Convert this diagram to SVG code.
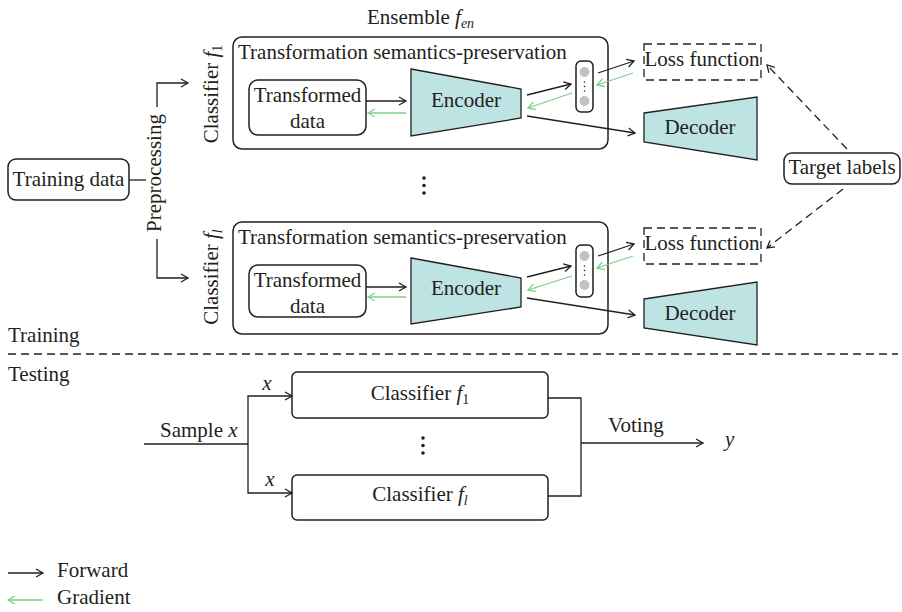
<svg xmlns="http://www.w3.org/2000/svg" width="902" height="612" viewBox="0 0 902 612">
  <style>
    .t { font-family: "Liberation Serif", "Times New Roman", serif; font-size: 21px; fill: #231f20; }
    .it { font-style: italic; }
    .sub { font-size: 14px; }
    .ln { stroke: #231f20; stroke-width: 1.3; fill: none; }
    .gr { stroke: #7ccf8a; stroke-width: 1.3; fill: none; }
    .dash { stroke: #231f20; stroke-width: 1.3; fill: none; stroke-dasharray: 8 5; }
    .box { fill: #fff; stroke: #231f20; stroke-width: 1.5; }
    .dbox { fill: #fff; stroke: #231f20; stroke-width: 1.3; stroke-dasharray: 8 5; }
    .trap { fill: #bde3e3; stroke: #231f20; stroke-width: 1.3; }
    .dot { fill: #231f20; }
    .node { fill: #c2c2c2; }
  </style>
  <defs>
    <marker id="fw" markerWidth="10" markerHeight="10" refX="8" refY="5" orient="auto" markerUnits="userSpaceOnUse">
      <path d="M1,1 L8,5 L1,9" fill="none" stroke="#231f20" stroke-width="1.3"/>
    </marker>
    <marker id="bw" markerWidth="10" markerHeight="10" refX="8" refY="5" orient="auto" markerUnits="userSpaceOnUse">
      <path d="M1,1 L8,5 L1,9" fill="none" stroke="#7ccf8a" stroke-width="1.3"/>
    </marker>
  </defs>

  <!-- ensemble title -->
  <text class="t" x="367" y="24">Ensemble <tspan class="it">f</tspan><tspan class="it sub" dy="4">en</tspan></text>

  <!-- training data and preprocessing split -->
  <g id="training-data">
    <rect class="box" x="8" y="159" width="121" height="41" rx="8"/>
    <text class="t" x="68.5" y="186" text-anchor="middle">Training data</text>
  </g>
  <g id="preprocessing">
    <text class="t" transform="translate(161,173) rotate(-90)" text-anchor="middle">Preprocessing</text>
  </g>

  <!-- classifier f1 -->
  <g id="classifier-1">
    <text class="t" transform="translate(218,94) rotate(-90)" text-anchor="middle">Classifier <tspan class="it">f</tspan><tspan class="sub" dy="4">1</tspan></text>
    <rect class="box" x="233" y="37" width="375" height="112" rx="9"/>
    <text class="t" x="238" y="59">Transformation semantics-preservation</text>
  </g>
  <g id="transformed-1">
    <rect class="box" x="249" y="80" width="117" height="55" rx="9"/>
    <text class="t" x="307.5" y="102" text-anchor="middle">Transformed</text>
    <text class="t" x="307.5" y="128" text-anchor="middle">data</text>
  </g>
  <g id="encoder-1">
    <polygon class="trap" points="411,69 521,89 521,118 411,136"/>
    <text class="t" x="466" y="107" text-anchor="middle">Encoder</text>
  </g>
  <g id="features-1">
    <rect class="box" x="576" y="61" width="17" height="51" rx="5"/>
    <circle class="node" cx="584.5" cy="72" r="5"/>
    <circle class="node" cx="584.5" cy="101" r="5"/>
    <circle class="dot" cx="584.5" cy="82" r="0.8"/>
    <circle class="dot" cx="584.5" cy="86.5" r="0.8"/>
    <circle class="dot" cx="584.5" cy="91" r="0.8"/>
  </g>
  <g id="loss-1">
    <rect class="dbox" x="644" y="44" width="117" height="36"/>
    <text class="t" x="702" y="66" text-anchor="middle">Loss function</text>
  </g>
  <g id="decoder-1">
    <polygon class="trap" points="644,113 757,97 757,160 644,142"/>
    <text class="t" x="700" y="134" text-anchor="middle">Decoder</text>
  </g>

  <!-- vertical ellipsis between classifiers -->
  <g id="ellipsis-train">
    <circle class="dot" cx="424" cy="178" r="1.8"/>
    <circle class="dot" cx="424" cy="185.5" r="1.8"/>
    <circle class="dot" cx="424" cy="193" r="1.8"/>
  </g>

  <!-- classifier fl -->
  <g id="classifier-l">
    <text class="t" transform="translate(218,277) rotate(-90)" text-anchor="middle">Classifier <tspan class="it">f</tspan><tspan class="it sub" dy="4">l</tspan></text>
    <rect class="box" x="233" y="222" width="375" height="112" rx="9"/>
    <text class="t" x="238" y="244">Transformation semantics-preservation</text>
  </g>
  <g id="transformed-l">
    <rect class="box" x="249" y="265" width="117" height="52" rx="9"/>
    <text class="t" x="307.5" y="287" text-anchor="middle">Transformed</text>
    <text class="t" x="307.5" y="313" text-anchor="middle">data</text>
  </g>
  <g id="encoder-l">
    <polygon class="trap" points="411,258 521,278 521,307 411,324"/>
    <text class="t" x="466" y="295" text-anchor="middle">Encoder</text>
  </g>
  <g id="features-l">
    <rect class="box" x="576" y="245" width="17" height="52" rx="5"/>
    <circle class="node" cx="584.5" cy="256" r="5"/>
    <circle class="node" cx="584.5" cy="285" r="5"/>
    <circle class="dot" cx="584.5" cy="266" r="0.8"/>
    <circle class="dot" cx="584.5" cy="270.5" r="0.8"/>
    <circle class="dot" cx="584.5" cy="275" r="0.8"/>
  </g>
  <g id="loss-l">
    <rect class="dbox" x="644" y="228" width="117" height="36"/>
    <text class="t" x="702" y="250" text-anchor="middle">Loss function</text>
  </g>
  <g id="decoder-l">
    <polygon class="trap" points="644,299 757,282 757,345 644,328"/>
    <text class="t" x="700" y="320" text-anchor="middle">Decoder</text>
  </g>

  <g id="target-labels">
    <rect class="box" x="784" y="153" width="116" height="31" rx="8"/>
    <text class="t" x="842" y="174" text-anchor="middle">Target labels</text>
  </g>

  <!-- training connectors -->
  <g id="connectors-train">
    <path class="ln" d="M129,180 H146"/>
    <path class="ln" d="M157,107 V83 H188" marker-end="url(#fw)"/>
    <path class="ln" d="M157,239 V278 H188" marker-end="url(#fw)"/>

    <path class="ln" d="M366,101 H406" marker-end="url(#fw)"/>
    <path class="gr" d="M406,113 H368" marker-end="url(#bw)"/>
    <path class="ln" d="M527,95 L571,84" marker-end="url(#fw)"/>
    <path class="gr" d="M572,93 L528,108" marker-end="url(#bw)"/>
    <path class="ln" d="M598,73 L634,61" marker-end="url(#fw)"/>
    <path class="gr" d="M633,73 L597,85" marker-end="url(#bw)"/>
    <path class="ln" d="M527,116 L635,133" marker-end="url(#fw)"/>

    <path class="ln" d="M366,287 H406" marker-end="url(#fw)"/>
    <path class="gr" d="M406,297 H368" marker-end="url(#bw)"/>
    <path class="ln" d="M527,277 L571,266" marker-end="url(#fw)"/>
    <path class="gr" d="M572,276 L528,290" marker-end="url(#bw)"/>
    <path class="ln" d="M598,256 L634,244" marker-end="url(#fw)"/>
    <path class="gr" d="M633,256 L597,268" marker-end="url(#bw)"/>
    <path class="ln" d="M527,298 L635,315" marker-end="url(#fw)"/>

    <path class="dash" d="M847,149 L767,65" marker-end="url(#fw)"/>
    <path class="dash" d="M843,189 L767,248" marker-end="url(#fw)"/>
  </g>

  <!-- phase divider -->
  <text class="t" x="8" y="342">Training</text>
  <path class="dash" d="M8,354 H898"/>
  <text class="t" x="8" y="381">Testing</text>

  <!-- testing -->
  <g id="test-classifier-1">
    <rect class="box" x="292" y="372" width="256" height="46" rx="5"/>
    <text class="t" x="420" y="400" text-anchor="middle">Classifier <tspan class="it">f</tspan><tspan class="sub" dy="4">1</tspan></text>
  </g>
  <g id="ellipsis-test">
    <circle class="dot" cx="423" cy="438" r="1.8"/>
    <circle class="dot" cx="423" cy="445.5" r="1.8"/>
    <circle class="dot" cx="423" cy="453" r="1.8"/>
  </g>
  <g id="test-classifier-l">
    <rect class="box" x="292" y="475" width="256" height="45" rx="5"/>
    <text class="t" x="420" y="501" text-anchor="middle">Classifier <tspan class="it">f</tspan><tspan class="it sub" dy="4">l</tspan></text>
  </g>

  <g id="connectors-test">
    <path class="ln" d="M144,444 H248"/>
    <path class="ln" d="M248,444 V396 H292" marker-end="url(#fw)"/>
    <path class="ln" d="M248,444 V493 H292" marker-end="url(#fw)"/>
    <path class="ln" d="M548,398 H581 V496 H548"/>
    <path class="ln" d="M581,443 H703" marker-end="url(#fw)"/>
  </g>
  <text class="t" x="160" y="437">Sample <tspan class="it">x</tspan></text>
  <text class="t it" x="267" y="390" text-anchor="middle">x</text>
  <text class="t it" x="270" y="486" text-anchor="middle">x</text>
  <text class="t" x="608" y="432">Voting</text>
  <text class="t it" x="725" y="446">y</text>

  <!-- legend -->
  <g id="legend">
    <path class="ln" d="M8,573 H43" marker-end="url(#fw)"/>
    <text class="t" x="57" y="577">Forward</text>
    <path class="gr" d="M43,600 H8" marker-end="url(#bw)"/>
    <text class="t" x="57" y="604">Gradient</text>
  </g>
</svg>
